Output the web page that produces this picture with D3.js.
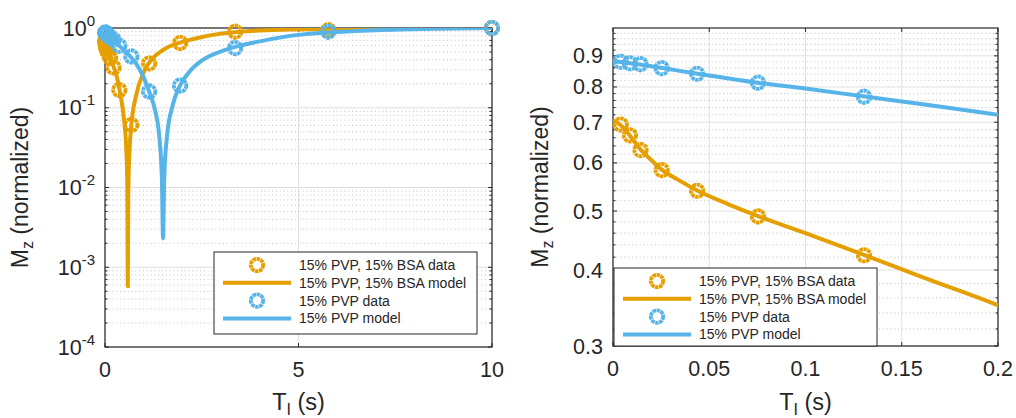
<!DOCTYPE html>
<html>
<head>
<meta charset="utf-8">
<script src="https://cdn.jsdelivr.net/npm/d3@7"></script>
<style>
  body { margin: 0; background: #fff; }
  svg { display: block; font-family: 'Liberation Sans', Arial, sans-serif; }
</style>
</head>
<body>
<div id="chart"></div>
<script>
// inversion times of the measured points (s)
const dataT = [0.004, 0.0088, 0.0143, 0.0253, 0.0437, 0.0753, 0.1304, 0.22, 0.37, 0.68, 1.14, 1.94, 3.36, 5.77, 10]
const dataBsa = [0.694, 0.666, 0.630, 0.584, 0.540, 0.490, 0.423, 0.32, 0.167, 0.061, 0.36, 0.65, 0.90, 0.94, 1.0]
const dataPvp = [0.880, 0.875, 0.872, 0.859, 0.841, 0.813, 0.771, 0.71, 0.60, 0.44, 0.16, 0.19, 0.56, 0.90, 1.0]

// fitted model curves
const modelTBsa = [0, 0.004, 0.009, 0.014, 0.02, 0.025, 0.035, 0.044, 0.06, 0.075, 0.1, 0.13, 0.16, 0.2, 0.3, 0.4, 0.5, 0.55, 0.575, 0.59, 0.6, 0.62, 0.68, 0.8, 1.0, 1.2, 1.5, 2.0, 2.5, 3.0, 3.5, 4, 5, 6, 8, 10]
const modelBsa = [0.705, 0.692, 0.664, 0.633, 0.606, 0.586, 0.560, 0.540, 0.513, 0.491, 0.460, 0.424, 0.390, 0.350, 0.25, 0.145, 0.065, 0.03, 0.012, 0.00058, 0.007, 0.02, 0.06, 0.14, 0.28, 0.40, 0.53, 0.67, 0.77, 0.85, 0.90, 0.93, 0.96, 0.98, 0.995, 1.0]
const modelTPvp = [0, 0.004, 0.009, 0.014, 0.025, 0.044, 0.075, 0.1, 0.13, 0.16, 0.2, 0.3, 0.4, 0.5, 0.65, 0.8, 1.0, 1.14, 1.3, 1.4, 1.47, 1.5, 1.53, 1.6, 1.75, 1.94, 2.2, 2.5, 3.0, 3.36, 4, 5, 5.77, 7, 8.5, 10]
const modelPvp = [0.883, 0.879, 0.875, 0.871, 0.860, 0.841, 0.813, 0.795, 0.772, 0.750, 0.720, 0.65, 0.58, 0.52, 0.44, 0.36, 0.24, 0.16, 0.09, 0.045, 0.013, 0.0023, 0.013, 0.043, 0.108, 0.19, 0.29, 0.39, 0.51, 0.58, 0.68, 0.82, 0.88, 0.94, 0.98, 1.0]

const seriesNames = ['15% PVP, 15% BSA data', '15% PVP, 15% BSA model', '15% PVP data', '15% PVP model']
const colors = ['#E69F00', '#56B4E9']

const leftXTicks = [0, 5, 10]
const leftYTicks = [1e-4, 1e-3, 1e-2, 1e-1, 1]
const leftYExp = ['-4', '-3', '-2', '-1', '0']
const rightXTicks = [0, 0.05, 0.1, 0.15, 0.2]
const rightXLabels = ['0', '0.05', '0.1', '0.15', '0.2']
const rightYTicks = [0.3, 0.4, 0.5, 0.6, 0.7, 0.8, 0.9]
const rightYLabels = ['0.3', '0.4', '0.5', '0.6', '0.7', '0.8', '0.9']

const svg = d3.select('#chart').append('svg')
  .attr('width', 1016)
  .attr('height', 418)

const axisColor = '#262626'

function marker(sel, color) {
  sel.attr('r', 6.2)
    .attr('fill', 'none')
    .attr('stroke', color)
    .attr('stroke-width', 3.8)
    .attr('stroke-dasharray', '3.4 0.6')
}

function drawPanel(opt) {
  const x = d3.scaleLinear().domain(opt.xDomain).range([opt.left, opt.right])
  const y = d3.scaleLog().domain(opt.yDomain).range([opt.bottom, opt.top])
  const g = svg.append('g')

  const clipId = 'clip' + opt.id
  svg.append('clipPath').attr('id', clipId)
    .append('rect')
    .attr('x', opt.left).attr('y', opt.top)
    .attr('width', opt.right - opt.left).attr('height', opt.bottom - opt.top)

  // minor grid
  g.selectAll('line.ymin').data(opt.yMinor).join('line')
    .attr('class', 'ymin')
    .attr('x1', opt.left).attr('x2', opt.right)
    .attr('y1', d => y(d)).attr('y2', d => y(d))
    .attr('stroke', '#c2c2c2')
    .attr('stroke-dasharray', '1 2.8')

  // major grid
  g.selectAll('line.ymaj').data(opt.yTicks).join('line')
    .attr('class', 'ymaj')
    .attr('x1', opt.left).attr('x2', opt.right)
    .attr('y1', d => y(d)).attr('y2', d => y(d))
    .attr('stroke', '#e0e0e0')
  g.selectAll('line.xmaj').data(opt.xTicks).join('line')
    .attr('class', 'xmaj')
    .attr('x1', d => x(d)).attr('x2', d => x(d))
    .attr('y1', opt.top).attr('y2', opt.bottom)
    .attr('stroke', '#e0e0e0')

  // box
  g.append('rect')
    .attr('x', opt.left).attr('y', opt.top)
    .attr('width', opt.right - opt.left).attr('height', opt.bottom - opt.top)
    .attr('fill', 'none')
    .attr('stroke', axisColor)
    .attr('stroke-width', 1.2)

  // ticks (inside, both sides)
  const tk = g.append('g').attr('stroke', axisColor).attr('stroke-width', 1)
  opt.xTicks.forEach(d => {
    tk.append('line').attr('x1', x(d)).attr('x2', x(d)).attr('y1', opt.bottom).attr('y2', opt.bottom - 4)
    tk.append('line').attr('x1', x(d)).attr('x2', x(d)).attr('y1', opt.top).attr('y2', opt.top + 4)
  })
  opt.yTicks.forEach(d => {
    tk.append('line').attr('x1', opt.left).attr('x2', opt.left + 4).attr('y1', y(d)).attr('y2', y(d))
    tk.append('line').attr('x1', opt.right).attr('x2', opt.right - 4).attr('y1', y(d)).attr('y2', y(d))
  })
  opt.yMinor.forEach(d => {
    tk.append('line').attr('x1', opt.left).attr('x2', opt.left + 2.5).attr('y1', y(d)).attr('y2', y(d))
    tk.append('line').attr('x1', opt.right).attr('x2', opt.right - 2.5).attr('y1', y(d)).attr('y2', y(d))
  })

  // tick labels
  g.selectAll('text.xl').data(opt.xTicks).join('text')
    .attr('class', 'xl')
    .attr('x', d => x(d))
    .attr('y', opt.bottom + 30)
    .attr('text-anchor', 'middle')
    .attr('font-size', 21.5)
    .attr('fill', axisColor)
    .text((d, i) => opt.xLabels[i])

  const yl = g.selectAll('text.yl').data(opt.yTicks).join('text')
    .attr('class', 'yl')
    .attr('x', opt.left - 10)
    .attr('y', d => y(d) + 7.5)
    .attr('text-anchor', 'end')
    .attr('font-size', 21.5)
    .attr('fill', axisColor)
  if (opt.yExp) {
    yl.append('tspan').text('10')
    yl.append('tspan')
      .attr('dy', -10)
      .attr('font-size', 15)
      .text((d, i) => opt.yExp[i])
  } else {
    yl.text((d, i) => opt.yLabels[i])
  }

  // axis labels
  const xt = g.append('text')
    .attr('x', (opt.left + opt.right) / 2)
    .attr('y', 410)
    .attr('text-anchor', 'middle')
    .attr('font-size', 23.5)
    .attr('fill', axisColor)
  xt.append('tspan').text('T')
  xt.append('tspan').attr('dy', 5).attr('font-size', 16).text('I')
  xt.append('tspan').attr('dy', -5).text(' (s)')

  const yt = g.append('text')
    .attr('transform', 'translate(' + opt.yLabelX + ',' + (opt.top + opt.bottom) / 2 + ') rotate(-90)')
    .attr('text-anchor', 'middle')
    .attr('font-size', 23)
    .attr('fill', axisColor)
  yt.append('tspan').text('M')
  yt.append('tspan').attr('dy', 5).attr('font-size', 16).text('z')
  yt.append('tspan').attr('dy', -5).text(' (normalized)')

  // data + model
  const line = d3.line()
    .x(d => x(d[0]))
    .y(d => y(d[1]))
    .curve(d3.curveMonotoneX)

  const series = [
    {data: d3.zip(dataT, dataBsa), model: d3.zip(modelTBsa, modelBsa), color: colors[0]},
    {data: d3.zip(dataT, dataPvp), model: d3.zip(modelTPvp, modelPvp), color: colors[1]}
  ]
  const plot = g.append('g')
  series.forEach(s => {
    plot.append('g').selectAll('circle')
      .data(s.data.filter(d => d[0] <= opt.xDomain[1]))
      .join('circle')
      .attr('cx', d => x(d[0]))
      .attr('cy', d => y(d[1]))
      .call(marker, s.color)
    plot.append('path')
      .datum(s.model)
      .attr('clip-path', 'url(#' + clipId + ')')
      .attr('fill', 'none')
      .attr('stroke', s.color)
      .attr('stroke-width', 4)
      .attr('d', line)
  })

  // legend
  const lg = g.append('g').attr('transform', 'translate(' + opt.legend[0] + ',' + opt.legend[1] + ')')
  lg.append('rect')
    .attr('width', 263).attr('height', opt.legend[2])
    .attr('fill', '#fff')
    .attr('stroke', axisColor)
    .attr('stroke-width', 1)
  seriesNames.forEach((name, i) => {
    const ry = 13 + i * 17.8
    const c = colors[Math.floor(i / 2)]
    if (i % 2 === 0) {
      lg.append('circle')
        .attr('cx', 43).attr('cy', ry)
        .call(marker, c)
    } else {
      lg.append('line')
        .attr('x1', 9).attr('x2', 77).attr('y1', ry).attr('y2', ry)
        .attr('stroke', c).attr('stroke-width', 4)
    }
    lg.append('text')
      .attr('x', 85).attr('y', ry + 5)
      .attr('font-size', 14)
      .attr('fill', axisColor)
      .text(name)
  })
}

const leftScale = d3.scaleLog().domain([1e-4, 1])
drawPanel({
  id: 'L',
  left: 105, right: 492, top: 28, bottom: 347,
  xDomain: [0, 10], yDomain: [1e-4, 1],
  xTicks: leftXTicks, xLabels: leftXTicks.map(String),
  yTicks: leftYTicks, yExp: leftYExp,
  yMinor: leftScale.ticks().filter(d => !leftYTicks.some(t => Math.abs(t - d) < d * 1e-6)),
  yLabelX: 28,
  legend: [214, 252, 82]
})

drawPanel({
  id: 'R',
  left: 613, right: 998, top: 28, bottom: 346,
  xDomain: [0, 0.2], yDomain: [0.3, 1],
  xTicks: rightXTicks, xLabels: rightXLabels,
  yTicks: rightYTicks, yLabels: rightYLabels,
  yMinor: d3.range(0.32, 0.995, 0.02).filter(d => !rightYTicks.some(t => Math.abs(t - d) < 1e-6)),
  yLabelX: 548,
  legend: [614, 268, 78]
})
</script>
</body>
</html>
